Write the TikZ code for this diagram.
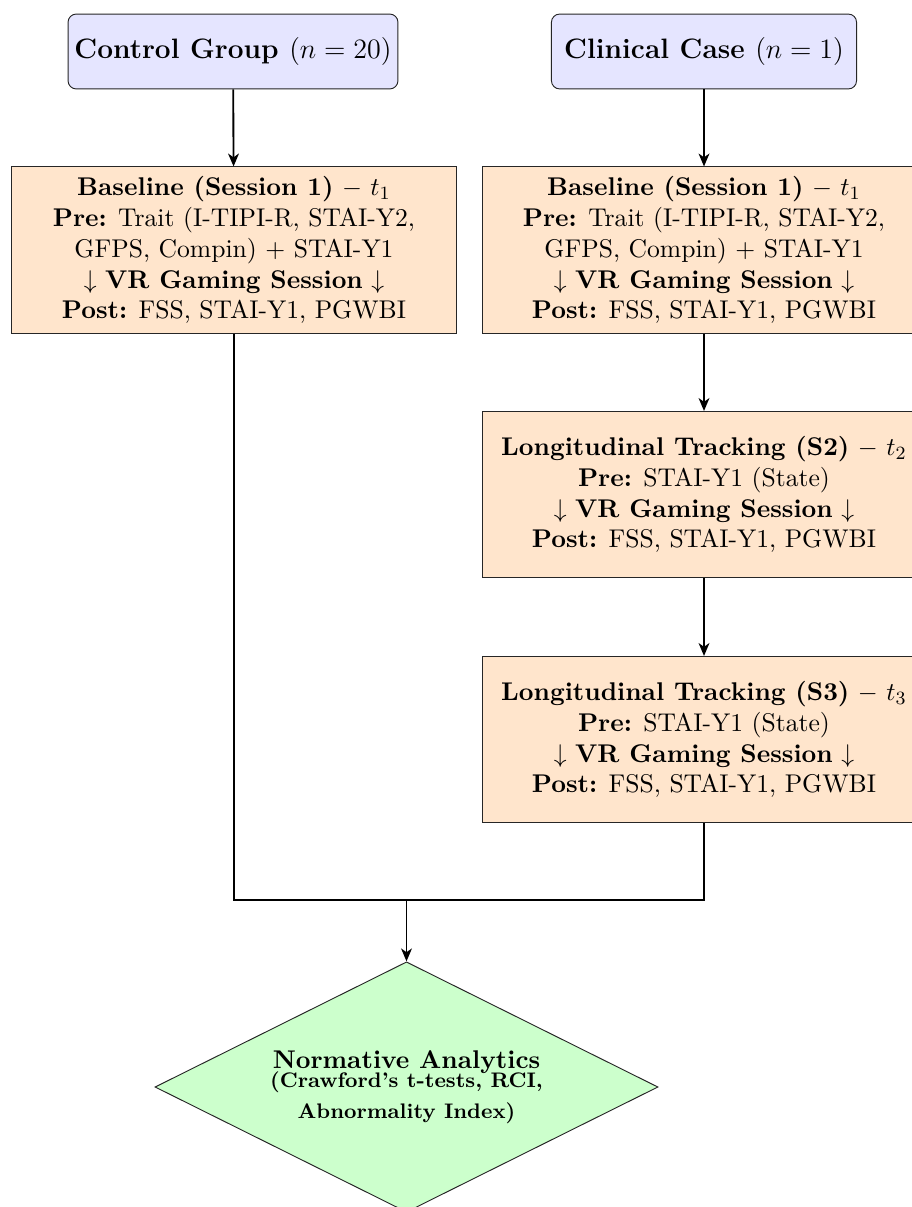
\documentclass[tikz,border=0pt]{standalone}
\usetikzlibrary{arrows.meta,shapes.geometric}
\begin{document}
\begin{tikzpicture}[x=0.4274pt,y=-0.4274pt,
  bodyfont/.style={font=\fontsize{10.95}{13.2}\selectfont},
  head/.style={draw=black!85, fill=blue!10, rounded corners=3.5pt, minimum height=32pt,
    inner sep=0pt, align=center, font=\fontsize{12}{14.5}\selectfont\bfseries},
  sessbox/.style={draw=black!85, fill=orange!20, minimum width=189.8pt, minimum height=71pt,
    inner sep=0pt, align=center, bodyfont},
  decide/.style={diamond, shape aspect=2, draw=black!85, fill=green!20, minimum width=215pt,
    minimum height=107pt, inner sep=0pt, align=center, bodyfont},
  flow/.style={thick, draw=black},
  arr/.style={flow, -{Stealth[length=5.5pt,width=4.6pt,inset=1.6pt]}}]
\useasboundingbox (0,0) rectangle (911,1207);

\node[head, minimum width=141pt] (ctrl) at (233,51.5) {Control Group \mdseries$(n=20)$};
\node[head, minimum width=130.4pt] (clin) at (704,51.5) {Clinical Case \mdseries$(n=1)$};

\node[sessbox] (base1) at (234,250) {\textbf{Baseline (Session 1)} $-$ $t_1$\\
  \textbf{Pre:} Trait (I-TIPI-R, STAI-Y2,\\
  GFPS, Compin) + STAI-Y1\\
  $\downarrow$ \textbf{VR Gaming Session} $\downarrow$\\
  \textbf{Post:} FSS, STAI-Y1, PGWBI};
\node[sessbox] (base2) at (704,250) {\textbf{Baseline (Session 1)} $-$ $t_1$\\
  \textbf{Pre:} Trait (I-TIPI-R, STAI-Y2,\\
  GFPS, Compin) + STAI-Y1\\
  $\downarrow$ \textbf{VR Gaming Session} $\downarrow$\\
  \textbf{Post:} FSS, STAI-Y1, PGWBI};
\node[sessbox] (s2) at (704,494.5) {\textbf{Longitudinal Tracking (S2)} $-$ $t_2$\\
  \textbf{Pre:} STAI-Y1 (State)\\
  $\downarrow$ \textbf{VR Gaming Session} $\downarrow$\\
  \textbf{Post:} FSS, STAI-Y1, PGWBI};
\node[sessbox] (s3) at (704,739.5) {\textbf{Longitudinal Tracking (S3)} $-$ $t_3$\\
  \textbf{Pre:} STAI-Y1 (State)\\
  $\downarrow$ \textbf{VR Gaming Session} $\downarrow$\\
  \textbf{Post:} FSS, STAI-Y1, PGWBI};

\node[decide] (norm) at (406.5,1087) {\textbf{Normative Analytics}\\[-5pt]
  {\fontsize{9}{11}\selectfont\bfseries (Crawford's t-tests, RCI,}\\
  {\fontsize{9}{11}\selectfont\bfseries Abnormality Index)}};

\coordinate (merge) at (406.5,900);

\draw[arr] (ctrl) -- (base1);
\draw[arr] (clin) -- (base2);
\draw[arr] (base2) -- (s2);
\draw[arr] (s2) -- (s3);
\draw[flow] (base1.south) |- (merge);
\draw[flow] (s3.south) |- (merge);
\draw[arr] (merge) -- (norm.north);
\end{tikzpicture}
\end{document}
